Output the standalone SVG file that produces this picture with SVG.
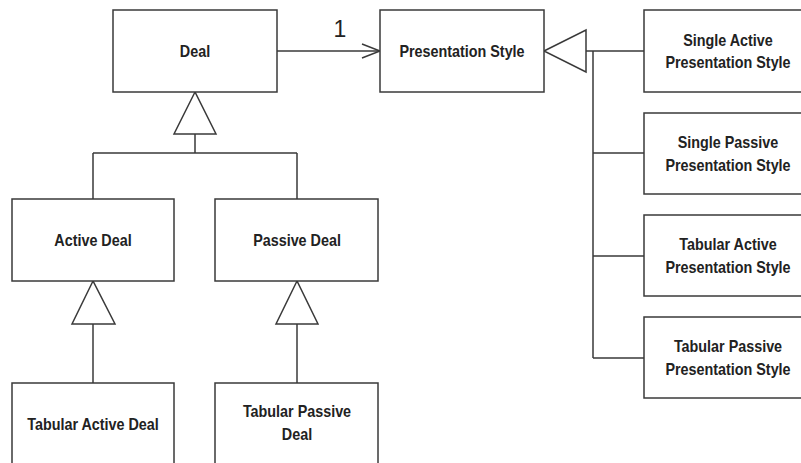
<svg xmlns="http://www.w3.org/2000/svg" width="801" height="463" viewBox="0 0 801 463">
<style>
.box{fill:#fff;stroke:#3a3a3a;stroke-width:1.5}
.lbl{font-family:"Liberation Sans",Arial,sans-serif;font-weight:bold;font-size:16.5px;fill:#222;text-anchor:middle}
.ln{fill:none;stroke:#3a3a3a;stroke-width:1.5}
.tri{fill:#fff;stroke:#3a3a3a;stroke-width:1.5}
.mult{font-family:"Liberation Sans",Arial,sans-serif;font-size:23px;fill:#222;text-anchor:middle}
</style>
<rect width="801" height="463" fill="#fff"/>
<g id="connectors">
<line class="ln" x1="277" y1="51" x2="379" y2="51"/>
<polyline class="ln" points="362,44 380,51 362,58"/>
<text class="mult" x="340" y="37">1</text>
<path class="ln" d="M195,134 V153 M93,153 H297 M93,153 V199 M297,153 V199"/>
<polygon class="tri" points="195,92 174,134 216,134"/>
<line class="ln" x1="93" y1="324" x2="93" y2="383"/>
<polygon class="tri" points="93,281 72,324 115,324"/>
<line class="ln" x1="297" y1="324" x2="297" y2="383"/>
<polygon class="tri" points="297,281 276,324 318,324"/>
<path class="ln" d="M586,51 H644 M593,51 V358 M593,153 H644 M593,256 H644 M593,358 H644"/>
<polygon class="tri" points="544,51 586,30 586,72"/>
</g>
<g id="deal">
<rect class="box" x="113" y="10" width="164" height="82"/>
<text class="lbl" transform="translate(195,57) scale(0.87,1)">Deal</text>
</g>
<g id="presentation-style">
<rect class="box" x="380" y="10" width="164" height="82"/>
<text class="lbl" transform="translate(462,57) scale(0.87,1)">Presentation Style</text>
</g>
<g id="active-deal">
<rect class="box" x="12" y="199" width="162" height="82"/>
<text class="lbl" transform="translate(93,246) scale(0.87,1)">Active Deal</text>
</g>
<g id="passive-deal">
<rect class="box" x="215" y="199" width="163" height="82"/>
<text class="lbl" transform="translate(297,246) scale(0.87,1)">Passive Deal</text>
</g>
<g id="tabular-active-deal">
<rect class="box" x="12" y="383" width="162" height="95"/>
<text class="lbl" transform="translate(93,430) scale(0.87,1)">Tabular Active Deal</text>
</g>
<g id="tabular-passive-deal">
<rect class="box" x="215" y="383" width="163" height="95"/>
<text class="lbl" transform="translate(297,417) scale(0.87,1)">Tabular Passive</text>
<text class="lbl" transform="translate(297,440) scale(0.87,1)">Deal</text>
</g>
<g id="single-active-presentation-style">
<rect class="box" x="644" y="10" width="170" height="82"/>
<text class="lbl" transform="translate(728,45.5) scale(0.87,1)">Single Active</text>
<text class="lbl" transform="translate(728,68) scale(0.87,1)">Presentation Style</text>
</g>
<g id="single-passive-presentation-style">
<rect class="box" x="644" y="113" width="170" height="81"/>
<text class="lbl" transform="translate(728,148) scale(0.87,1)">Single Passive</text>
<text class="lbl" transform="translate(728,170.5) scale(0.87,1)">Presentation Style</text>
</g>
<g id="tabular-active-presentation-style">
<rect class="box" x="644" y="215" width="170" height="81"/>
<text class="lbl" transform="translate(728,250) scale(0.87,1)">Tabular Active</text>
<text class="lbl" transform="translate(728,272.5) scale(0.87,1)">Presentation Style</text>
</g>
<g id="tabular-passive-presentation-style">
<rect class="box" x="644" y="317" width="170" height="81"/>
<text class="lbl" transform="translate(728,352) scale(0.87,1)">Tabular Passive</text>
<text class="lbl" transform="translate(728,374.5) scale(0.87,1)">Presentation Style</text>
</g>
</svg>
